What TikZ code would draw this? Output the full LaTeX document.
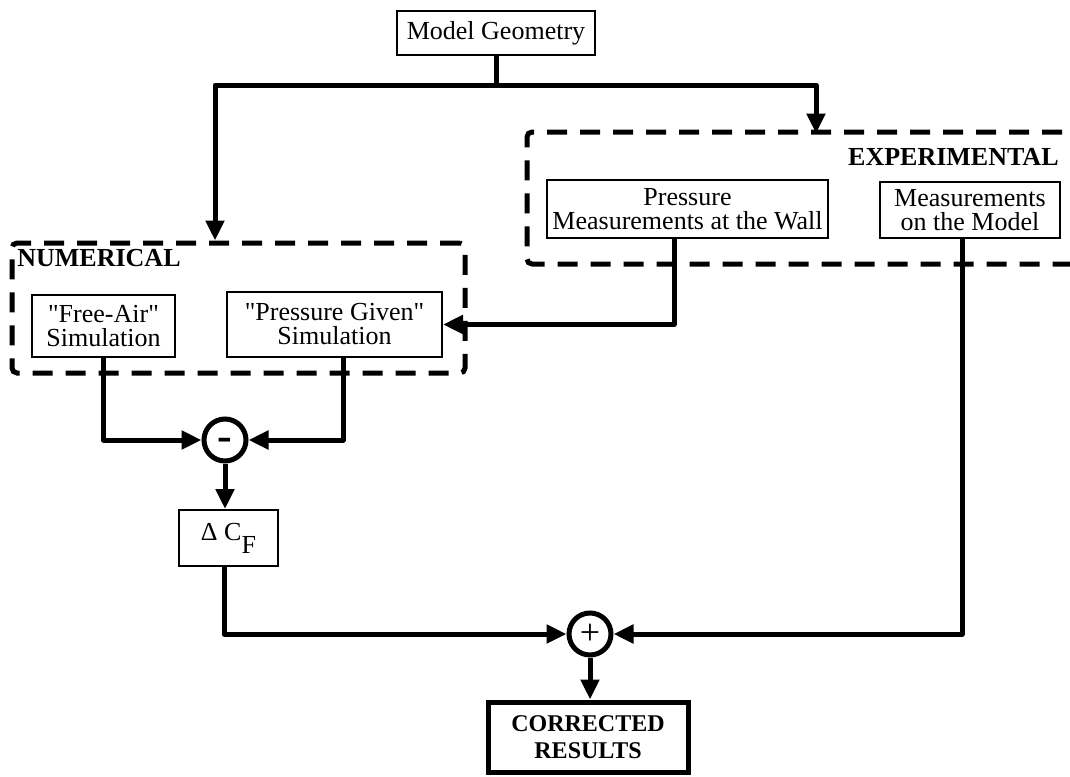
\documentclass[tikz,border=0pt]{standalone}
\usepackage{fontspec}
\setmainfont{Liberation Serif}
\usetikzlibrary{arrows.meta}
\begin{document}
\begin{tikzpicture}[x=0.5pt,y=-0.5pt,
 box/.style={draw,line width=1pt,inner sep=0pt,align=center,font=\fontsize{13}{12}\selectfont},
 grp/.style={draw,line width=2.5pt,dash pattern=on 10pt off 6.5pt,rounded corners=2.5pt,inner sep=0pt},
 sumnode/.style={draw,circle,line width=2.5pt,minimum size=21pt,inner sep=0pt},
 conn/.style={line width=2.5pt,line join=round},
 arr/.style={conn,-{Triangle[length=10pt,width=9pt]}},
 lbl/.style={font=\fontsize{13}{12}\selectfont\bfseries,inner sep=0pt}]
\clip (0,0) rectangle (1070,776);
\fill[white] (0,0) rectangle (1070,776);
% groups
\node[grp,minimum width=226.5pt,minimum height=65pt] (num) at (238.5,308) {};
\node[grp,minimum width=286.5pt,minimum height=66pt] (exp) at (813.5,198) {};
\node[lbl,anchor=west] (numl) at (17,258) {NUMERICAL};
\node[lbl,anchor=east] (expl) at (1059,157) {EXPERIMENTAL};
% boxes
\node[box,minimum width=99pt,minimum height=22pt] (mg) at (496,33) {Model Geometry};
\node[box,minimum width=71.5pt,minimum height=31pt] (fa) at (103.5,326) {\textquotedbl Free-Air\textquotedbl\\Simulation};
\node[box,minimum width=107.5pt,minimum height=32.5pt] (pg) at (334.5,324.5) {\textquotedbl Pressure Given\textquotedbl\\Simulation};
\node[box,minimum width=140.5pt,minimum height=29pt] (pw) at (687.5,209) {Pressure\\Measurements at the Wall};
\node[box,minimum width=90pt,minimum height=28pt] (mm) at (970,210) {Measurements\\on the Model};
\node[sumnode,font=\fontsize{22}{22}\selectfont\bfseries] (minus) at (225,440) {\smash{\raisebox{-0.24em}{-}}};
\node[box,minimum width=49.5pt,minimum height=28pt] (dcf) at (228.5,538) {Δ C\raisebox{-1.1ex}{F}};
\node[sumnode,font=\fontsize{18}{18}\selectfont] (plus) at (590,634) {+};
\node[box,line width=2.5pt,minimum width=100pt,minimum height=35pt,font=\fontsize{12}{13.5}\selectfont\bfseries] (cr) at (588,737) {CORRECTED\\RESULTS};
% connectors
\coordinate (j) at (496,85);
\draw[conn] (mg.south) -- (j);
\draw[arr] (j) -| ([xshift=-11.75pt]num.north);
\draw[arr] (j) -| ([xshift=1.25pt,yshift=-2pt]exp.north);
\draw[arr] ([xshift=-6.75pt]pw.south) |- (pg.east);
\draw[arr] (fa.south) |- (minus.west);
\draw[arr] ([xshift=4.25pt]pg.south) |- (minus.east);
\draw[arr] (minus.south) -- (minus.south |- dcf.north);
\draw[arr] ([xshift=-2.25pt]dcf.south) |- (plus.west);
\draw[arr] ([xshift=-4pt]mm.south) |- (plus.east);
\draw[arr] (plus.south) -- (plus.south |- cr.north);
\end{tikzpicture}
\end{document}
